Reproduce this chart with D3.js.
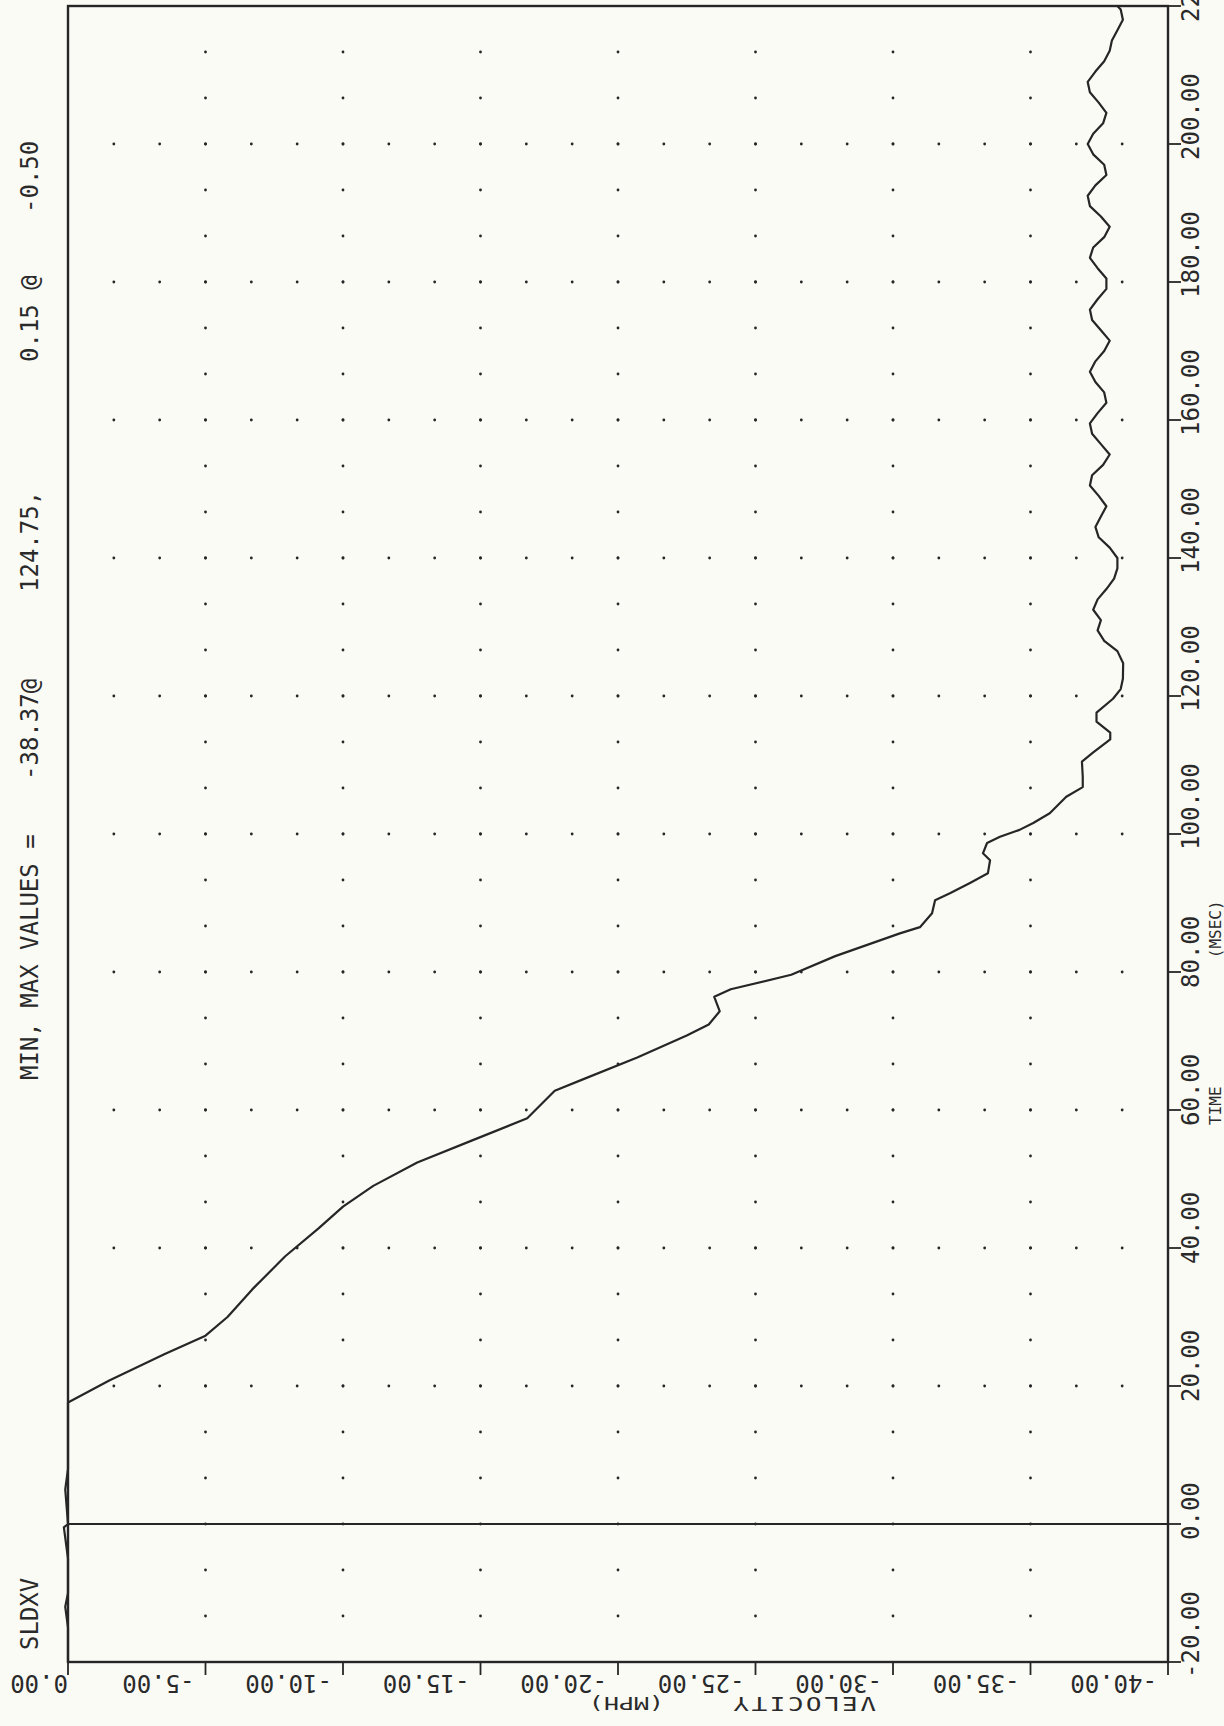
<!DOCTYPE html>
<html><head><meta charset="utf-8">
<script src="https://cdn.jsdelivr.net/npm/d3@7"></script>
<style>
html,body{margin:0;padding:0;background:#fbfbf6;}
svg{display:block;}
text{font-family:"DejaVu Sans Mono",monospace;fill:#2a2a2a;}
</style></head><body>
<svg id="chart" width="1224" height="1726"></svg>
<script>
// ---- data ----
const timeMs = [-20,-15,-12,-10,-5,-0.5,0,5,8,12,17.6,20.8,24.6,27.3,30,34,38.8,42.8,46,49,52.4,55.6,58.8,62.8,64.4,67.6,70.8,72.4,74.3,76.4,77.5,79.6,82.3,85.6,86.5,88.5,90.4,91.4,92.9,94.3,96.2,97.2,98.7,99.6,100.6,101.6,103,105.4,106.8,108.3,110.5,111.8,113.7,114.7,116.3,117.6,119.6,121,122.5,124.75,126.5,128,129.5,131,132.5,134,135.5,137,138.5,140,141.5,143,144.5,146,147.5,149,150.5,152,153.5,155,156.5,158,159.5,161,162.5,164,165.5,167,168.5,170,171.5,173,174.5,176,177.5,179,180.5,182,183.5,185,186.5,188,189.5,191,192.5,194,195.5,197,198.5,200,201.5,203,204.5,206,207.5,209,210.5,212,213.5,215,216.5,218,219.5,220];
const velocityMph = [0,0,0.1,0,0,0.15,0,0.1,0,0,0,-1.5,-3.5,-5.0,-5.8,-6.7,-7.9,-9.1,-10,-11.1,-12.7,-14.7,-16.7,-17.7,-18.7,-20.7,-22.5,-23.3,-23.7,-23.5,-24.1,-26.3,-27.9,-30.25,-30.98,-31.42,-31.53,-32.07,-32.8,-33.45,-33.53,-33.27,-33.42,-33.89,-34.6,-35.1,-35.7,-36.3,-36.9,-36.9,-36.87,-37.27,-37.9,-37.9,-37.4,-37.4,-38.0,-38.28,-38.36,-38.37,-38.16,-37.68,-37.44,-37.56,-37.28,-37.44,-37.76,-38.04,-38.16,-38.16,-37.88,-37.48,-37.36,-37.56,-37.76,-37.48,-37.16,-37.24,-37.64,-37.88,-37.56,-37.24,-37.16,-37.44,-37.76,-37.68,-37.36,-37.16,-37.36,-37.68,-37.88,-37.56,-37.24,-37.16,-37.44,-37.76,-37.76,-37.44,-37.16,-37.28,-37.68,-37.88,-37.56,-37.16,-37.08,-37.36,-37.76,-37.68,-37.28,-37.08,-37.28,-37.64,-37.76,-37.48,-37.16,-37.08,-37.36,-37.68,-37.88,-37.96,-38.16,-38.36,-38.28,-38.16];
const velocityTicks = [0,-5,-10,-15,-20,-25,-30,-35,-40];
const velocityTickLabels = ["0.00","-5.00","-10.00","-15.00","-20.00","-25.00","-30.00","-35.00","-40.00"];
const timeTicks = [-20,0,20,40,60,80,100,120,140,160,180,200,220];
const timeTickLabels = ["-20.00","0.00","20.00","40.00","60.00","80.00","100.00","120.00","140.00","160.00","180.00","200.00","220.00"];
const plotName = "SLDXV";
const minMaxLabel = "MIN, MAX VALUES =";
const minMaxParts = ["-38.37@","124.75,","0.15 @","-0.50"];
const velocityTitle = ["VELOCITY","(MPH)"];
const timeTitle = ["TIME","(MSEC)"];

// ---- layout ----
const svg = d3.select("#chart");
const L = 68, R = 1168, T = 6, B = 1662;
const x = d3.scaleLinear().domain([0,-40]).range([L,R]);
const y = d3.scaleLinear().domain([-20,220]).range([B,T]);
const ink = "#262626";

// dotted grid
const dots = [];
const vMajor = velocityTicks.filter(v => v !== 0 && v !== -40);
const tMajor = timeTicks.filter(t => t !== -20 && t !== 0 && t !== 220);
for (const t of tMajor) for (let k = 1; k < 24; k++) dots.push([-k*5/3, t]);
for (const v of vMajor) for (let k = 1; k < 36; k++) dots.push([v, -20 + k*20/3]);
svg.append("g").selectAll("circle").data(dots).join("circle")
  .attr("cx", d => x(d[0])).attr("cy", d => y(d[1])).attr("r", 1.4).attr("fill", ink);

// frame
svg.append("rect").attr("x", L).attr("y", T).attr("width", R-L).attr("height", B-T)
  .attr("fill","none").attr("stroke",ink).attr("stroke-width",2.4);
// zero time line
svg.append("line").attr("x1",L).attr("x2",R).attr("y1",y(0)).attr("y2",y(0))
  .attr("stroke",ink).attr("stroke-width",1.8);

// velocity axis (bottom), labels upside-down
const gx = svg.append("g");
gx.selectAll("line").data(velocityTicks).join("line")
  .attr("x1", d => x(d)).attr("x2", d => x(d)).attr("y1", B).attr("y2", B+13)
  .attr("stroke", ink).attr("stroke-width", 1.8);
gx.selectAll("text").data(velocityTicks).join("text")
  .attr("transform", d => `translate(${x(d) - (d === 0 ? 0 : 11)},${B+13}) rotate(180)`)
  .attr("font-size", 24).attr("text-anchor","start")
  .text((d,i) => velocityTickLabels[i]);
svg.append("text").attr("transform", `translate(876,${B+35}) rotate(180) scale(1,0.72)`)
  .attr("font-size", 26).attr("letter-spacing", 2.5).attr("text-anchor","start")
  .text(velocityTitle[0]);
svg.append("text").attr("transform", `translate(664,${B+35}) rotate(180) scale(1,0.72)`)
  .attr("font-size", 25).attr("letter-spacing", 0).attr("text-anchor","start")
  .text(velocityTitle[1]);

// time axis (right), labels rotated
const gy = svg.append("g");
gy.selectAll("line").data(timeTicks).join("line")
  .attr("x1", R).attr("x2", R+13).attr("y1", d => y(d)).attr("y2", d => y(d))
  .attr("stroke", ink).attr("stroke-width", 1.8);
gy.selectAll("text").data(timeTicks).join("text")
  .attr("transform", d => `translate(${R+31},${y(d)+16}) rotate(-90)`)
  .attr("font-size", 24).attr("text-anchor","start")
  .text((d,i) => timeTickLabels[i]);
svg.append("text").attr("transform", `translate(1221,1125) rotate(-90)`)
  .attr("font-size", 16).text(timeTitle[0]);
svg.append("text").attr("transform", `translate(1221,${y(82)}) rotate(-90)`)
  .attr("font-size", 16).text(timeTitle[1]);

// left titles
svg.append("text").attr("transform", `translate(38,1650) rotate(-90)`)
  .attr("font-size", 24).text(plotName);
svg.append("text").attr("transform", `translate(38,1080) rotate(-90)`)
  .attr("font-size", 24).text(minMaxLabel);
const partY = [780, 592, 362, 213];
minMaxParts.forEach((p,i) => svg.append("text")
  .attr("transform", `translate(38,${partY[i]}) rotate(-90)`)
  .attr("font-size", 24).text(p));

// data curve
const pts = timeMs.map((t,i) => [velocityMph[i], t]);
svg.append("path").datum(pts)
  .attr("d", d3.line().x(d => x(d[0])).y(d => y(d[1])).curve(d3.curveLinear))
  .attr("fill","none").attr("stroke",ink).attr("stroke-width",2.2).attr("stroke-linejoin","round");
</script>
</body></html>
